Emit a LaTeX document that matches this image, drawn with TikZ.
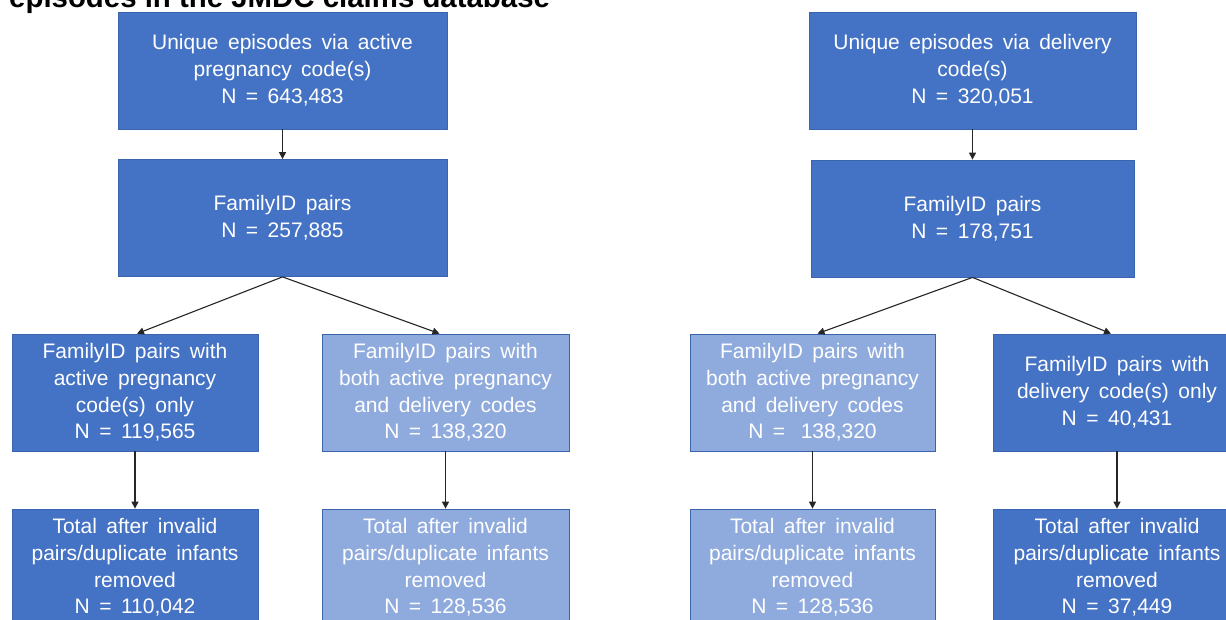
\documentclass[tikz,border=0pt]{standalone}
\usepackage{fontspec}
\setmainfont{Liberation Sans}
\usetikzlibrary{arrows.meta}

\definecolor{boxdark}{HTML}{4472C4}
\definecolor{boxlight}{HTML}{8FAADC}
\definecolor{boxedge}{HTML}{3A64AE}

\newcommand\flowboxfont{\fontsize{21}{26.8}\selectfont\spaceskip 9.5pt plus 1pt\relax}

\tikzset{
  box/.style={rectangle, draw=boxedge, line width=0.8pt, inner sep=0pt,
    text=white, align=center, font={\flowboxfont}},
  darkbox/.style={box, fill=boxdark},
  lightbox/.style={box, fill=boxlight},
  wide/.style={minimum width=#1pt, minimum height=117pt},
  flow/.style={-{Triangle[width=7pt,length=7pt]}, line width=1.1pt, draw=black!85}
}

\begin{document}
\begin{tikzpicture}[x=1pt, y=-1pt]
\useasboundingbox (0,0) rectangle (1226,619);
\fill[white] (0,0) rectangle (1226,619);

% heading, partly above the page edge
\node[anchor=base west, inner sep=0pt, font={\fontsize{29.4}{34}\selectfont\bfseries}] (title)
  at (9,7.5) {episodes in the JMDC claims database};

% active pregnancy code branch
\node[darkbox, wide=329] (b1) at (282.5,70.5) {Unique episodes via active\\pregnancy code(s)\\N = 643,483};
\node[darkbox, wide=329] (b2) at (282.5,218) {FamilyID pairs\\N = 257,885};
\node[darkbox, wide=246] (b3) at (135,392.5) {FamilyID pairs with\\active pregnancy\\code(s) only\\N = 119,565};
\node[lightbox, wide=247] (b4) at (445.5,392.5) {FamilyID pairs with\\both active pregnancy\\and delivery codes\\N = 138,320};
\node[darkbox, wide=246] (b5) at (135,567.5) {Total after invalid\\pairs/duplicate infants\\removed\\N = 110,042};
\node[lightbox, wide=247] (b6) at (445.5,567.5) {Total after invalid\\pairs/duplicate infants\\removed\\N = 128,536};

% delivery code branch
\node[darkbox, wide=327] (b7) at (972.5,70.5) {Unique episodes via delivery\\code(s)\\N = 320,051};
\node[darkbox, wide=323] (b8) at (972.5,218.5) {FamilyID pairs\\N = 178,751};
\node[lightbox, wide=245] (b9) at (812.5,392.5) {FamilyID pairs with\\both active pregnancy\\and delivery codes\\N =\hspace{6pt} 138,320};
\node[darkbox, wide=248] (b10) at (1117,392.5) {FamilyID pairs with\\delivery code(s) only\\N = 40,431};
\node[lightbox, wide=245] (b11) at (812.5,567.5) {Total after invalid\\pairs/duplicate infants\\removed\\N = 128,536};
\node[darkbox, wide=248] (b12) at (1117,567.5) {Total after invalid\\pairs/duplicate infants\\removed\\N = 37,449};

% connectors
\draw[flow] (b1.south) -- (b2.north);
\draw[flow] (b2.south) -- ([xshift=2pt]b3.north);
\draw[flow] (b2.south) -- ([xshift=-6pt]b4.north);
\draw[flow] (b3.south) -- (b5.north);
\draw[flow] (b4.south) -- (b6.north);

\draw[flow] (b7.south) -- (b8.north);
\draw[flow] (b8.south) -- ([xshift=5pt]b9.north);
\draw[flow] (b8.south) -- ([xshift=-6pt]b10.north);
\draw[flow] (b9.south) -- (b11.north);
\draw[flow] (b10.south) -- (b12.north);
\end{tikzpicture}
\end{document}
